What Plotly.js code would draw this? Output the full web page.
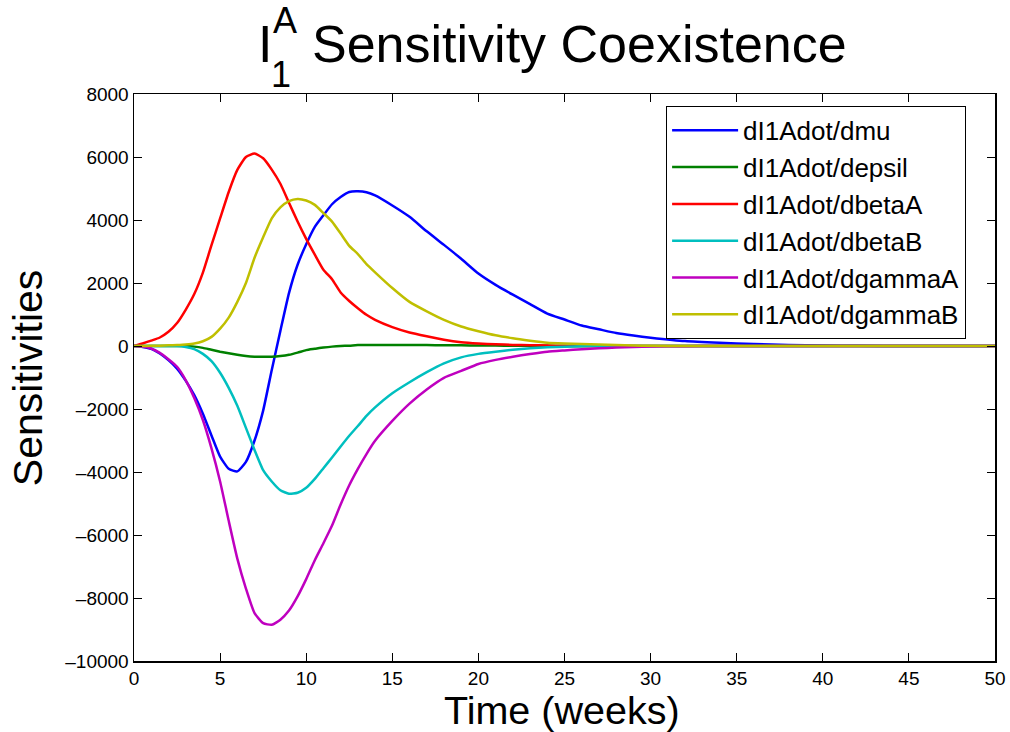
<!DOCTYPE html>
<html>
<head>
<meta charset="utf-8">
<script src="https://cdn.plot.ly/plotly-3.0.1.min.js"></script>
<style>html,body{margin:0;padding:0;background:#fff;}#chart{width:1010px;height:732px;}</style>
</head>
<body>
<div id="chart"></div>
<script>
// Time grid (weeks)
var time = [0,0.5,1,1.5,2,2.5,3,3.5,4,4.5,5,5.5,6,6.5,7,7.5,8,8.5,9,9.5,10,10.5,11,11.5,12,12.5,13,13.5,14,15,16,17,18,19,20,21,22,23,24,25,26,27,28,29,30,32,34,36,38,40,42,45,50];

var dmu = [0,-30,-90,-240,-450,-720,-1100,-1560,-2150,-2840,-3510,-3900,-3980,-3680,-3000,-2050,-760,480,1680,2580,3230,3780,4150,4500,4730,4890,4910,4880,4780,4460,4100,3640,3210,2770,2300,1940,1630,1330,1030,840,650,530,410,330,265,155,100,60,35,15,5,0,0];
var depsil = [0,0,0,0,0,0,0,-20,-60,-120,-180,-230,-280,-320,-340,-340,-340,-320,-280,-210,-130,-90,-50,-20,0,10,30,30,30,30,30,30,25,20,15,12,10,7,5,3,0,0,0,0,0,0,0,0,0,0,0,0,0];
var dbetaA = [0,80,170,270,450,730,1150,1650,2330,3200,4050,4890,5590,6000,6110,5960,5600,5150,4550,3950,3400,2900,2420,2120,1700,1430,1200,990,830,600,430,310,200,120,80,55,35,25,15,8,0,0,0,0,0,0,0,0,0,0,0,0,0];
var dbetaB = [0,0,0,0,0,0,-30,-100,-250,-480,-850,-1330,-1900,-2600,-3300,-3940,-4300,-4580,-4690,-4660,-4500,-4220,-3880,-3540,-3190,-2850,-2540,-2220,-1950,-1500,-1150,-830,-550,-360,-250,-180,-120,-75,-40,-20,-5,0,0,0,0,0,0,0,0,0,0,0,0];
var dgammaA = [0,-20,-80,-220,-420,-660,-1080,-1650,-2350,-3250,-4300,-5550,-6750,-7700,-8480,-8800,-8850,-8690,-8400,-7950,-7400,-6800,-6260,-5700,-5030,-4420,-3900,-3430,-3010,-2380,-1830,-1380,-1010,-790,-570,-440,-340,-255,-180,-140,-105,-75,-50,-30,-15,-5,0,0,0,0,0,0,0];
var dgammaB = [0,0,5,10,20,32,50,80,150,290,550,900,1400,2000,2800,3450,4050,4400,4600,4670,4620,4480,4220,3950,3570,3180,2920,2600,2340,1840,1400,1100,830,620,470,340,245,170,105,80,65,50,30,15,5,0,0,0,0,0,0,0,0];

var seriesNames = ["dI1Adot/dmu","dI1Adot/depsil","dI1Adot/dbetaA","dI1Adot/dbetaB","dI1Adot/dgammaA","dI1Adot/dgammaB"];
var seriesValues = [dmu, depsil, dbetaA, dbetaB, dgammaA, dgammaB];
var seriesColors = ["#0000FF","#008000","#FF0000","#00BFBF","#BF00BF","#BFBF00"];

var xTicks = [0,5,10,15,20,25,30,35,40,45,50];
var yTicks = [-10000,-8000,-6000,-4000,-2000,0,2000,4000,6000,8000];

var font = "Liberation Sans, Arial, Helvetica, sans-serif";

var traces = seriesNames.map(function(n, i){
  return {x: time, y: seriesValues[i], name: n, type: 'scatter', mode: 'lines',
          line: {color: seriesColors[i], width: 2.5, shape: 'spline', smoothing: 0.5}};
});

var axisBase = {showline: true, linecolor: '#000', linewidth: 1.5, mirror: 'ticks',
  ticks: 'inside', ticklen: 8, tickwidth: 1, tickcolor: '#000',
  showgrid: false, zeroline: false, tickfont: {family: font, size: 19, color: '#000'}};

var layout = {
  width: 1010, height: 732,
  margin: {l: 134, r: 15, t: 94, b: 71},
  paper_bgcolor: '#fff', plot_bgcolor: '#fff',
  xaxis: Object.assign({}, axisBase, {range: [0, 50], tickvals: xTicks, ticktext: xTicks.map(String)}),
  yaxis: Object.assign({}, axisBase, {range: [-10000, 8000], tickvals: yTicks,
    ticktext: yTicks.map(function(v){return v < 0 ? '\u2013' + Math.abs(v) : String(v);})}),
  showlegend: true,
  legend: {x: 0.618, y: 0.979, xanchor: 'left', yanchor: 'top', bgcolor: '#fff',
    bordercolor: '#000', borderwidth: 1, font: {family: font, size: 26, color: '#000'},
    itemwidth: 66, tracegroupgap: 0},
  annotations: [
    {text: 'I', xref: 'paper', yref: 'paper', x: 0.152, y: 1.089, xanchor: 'center', yanchor: 'middle', showarrow: false, font: {family: font, size: 52, color: '#000'}},
    {text: 'A', xref: 'paper', yref: 'paper', x: 0.1754, y: 1.1305, xanchor: 'center', yanchor: 'middle', showarrow: false, font: {family: font, size: 36, color: '#000'}},
    {text: '1', xref: 'paper', yref: 'paper', x: 0.1707, y: 1.0344, xanchor: 'center', yanchor: 'middle', showarrow: false, font: {family: font, size: 36, color: '#000'}},
    {text: 'Sensitivity Coexistence', xref: 'paper', yref: 'paper', x: 0.518, y: 1.089, xanchor: 'center', yanchor: 'middle', showarrow: false, font: {family: font, size: 52, color: '#000'}},
    {text: 'Time (weeks)', xref: 'paper', yref: 'paper', x: 0.497, y: -0.086, xanchor: 'center', yanchor: 'middle', showarrow: false, font: {family: font, size: 39.5, color: '#000'}},
    {text: 'Sensitivities', xref: 'paper', yref: 'paper', x: -0.123, y: 0.499, xanchor: 'center', yanchor: 'middle', textangle: -90, showarrow: false, font: {family: font, size: 41, color: '#000'}}
  ]
};

Plotly.newPlot('chart', traces, layout, {staticPlot: true, displayModeBar: false});
</script>
</body>
</html>
